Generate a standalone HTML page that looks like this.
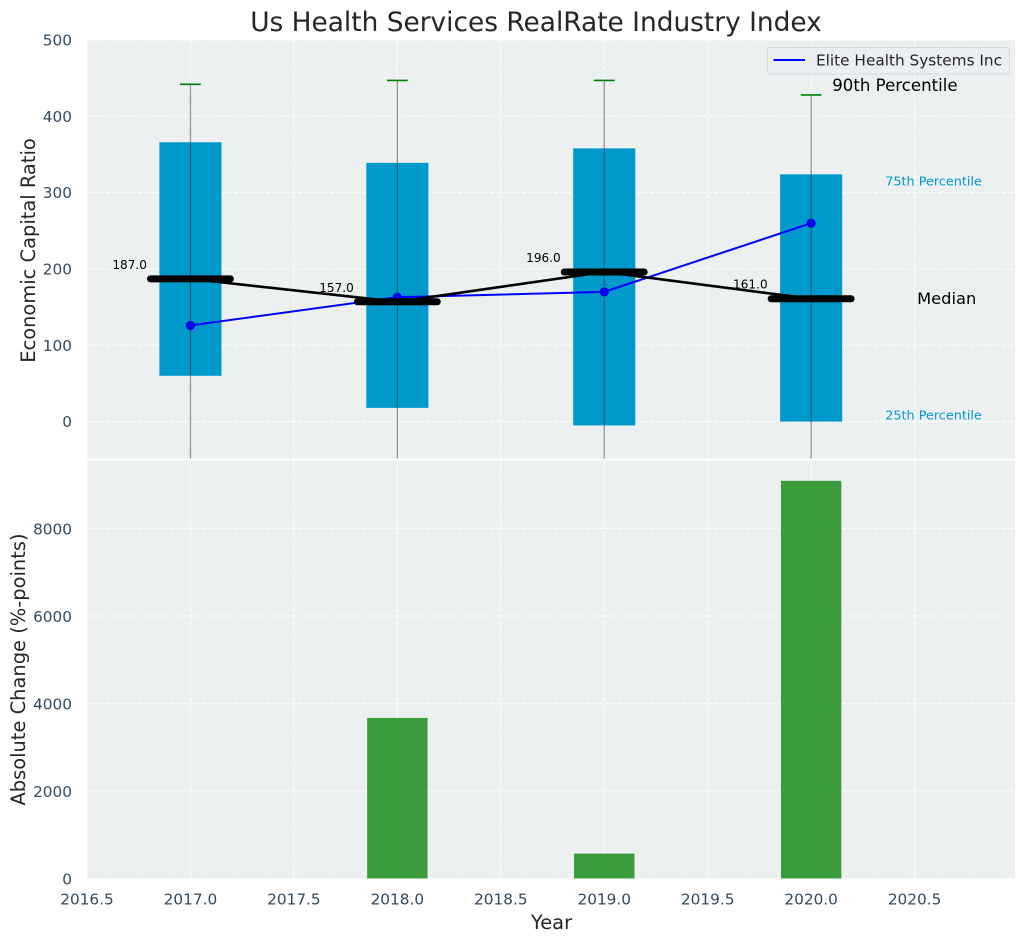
<!DOCTYPE html>
<html lang="en">
<head>
<meta charset="utf-8">
<title>Us Health Services RealRate Industry Index</title>
<style>
html,body{margin:0;padding:0;background:#fff;width:1026px;height:942px;overflow:hidden}
svg{display:block;font-family:"DejaVu Sans","Liberation Sans",sans-serif}
</style>
</head>
<body>
<svg id="chart" xmlns="http://www.w3.org/2000/svg" width="1026" height="942" viewBox="0 0 1026 942">
  <defs>
    <clipPath id="clip-top"><rect x="87" y="40" width="928" height="418.5"/></clipPath>
    <clipPath id="clip-bottom"><rect x="87" y="460.5" width="928" height="418"/></clipPath>
  </defs>
  <text x="536" y="31" text-anchor="middle" font-size="26.4" fill="#262626">Us Health Services RealRate Industry Index</text>
  <rect x="87" y="40" width="928" height="418.5" fill="#ecf0f1"/>
  <rect x="87" y="460.5" width="928" height="418" fill="#ecf0f1"/>
  <g id="grid"></g>
  <g id="top-marks" clip-path="url(#clip-top)"></g>
  <g id="bottom-marks" clip-path="url(#clip-bottom)"></g>
  <g id="annotations"></g>
  <g id="ticks"></g>
  <text transform="translate(35,250.5) rotate(-90)" text-anchor="middle" font-size="19.45" fill="#262626">Economic Capital Ratio</text>
  <text transform="translate(25,669.5) rotate(-90)" text-anchor="middle" font-size="19.45" fill="#262626">Absolute Change (%-points)</text>
  <text x="551.5" y="929" text-anchor="middle" font-size="19.45" fill="#262626">Year</text>
  <g>
    <rect x="767.5" y="47.5" width="242" height="26.5" rx="3" fill="#ebedf3" fill-opacity="0.9" stroke="#d8dade" stroke-width="1"/>
    <line x1="773.5" x2="805" y1="60" y2="60" stroke="#0000ff" stroke-width="2"/>
    <text x="816" y="65.5" font-size="15.3" fill="#262626">Elite Health Systems Inc</text>
  </g>
</svg>
<script>
const years = [2017, 2018, 2019, 2020];
const p25 = [60, 18, -5, 0];
const p75 = [366, 339, 358, 324];
const p90 = [442, 447, 447, 428];
const p10 = [-120, -120, -120, -120];
const medians = [187, 157, 196, 161];
const company = [126, 163, 170, 260];
const changeYears = [2018, 2019, 2020];
const changes = [3670, 570, 9090];
const xTickValues = [2016.5, 2017, 2017.5, 2018, 2018.5, 2019, 2019.5, 2020, 2020.5];
const xTickLabels = ['2016.5', '2017.0', '2017.5', '2018.0', '2018.5', '2019.0', '2019.5', '2020.0', '2020.5'];
const topTicks = [0, 100, 200, 300, 400, 500];
const bottomTicks = [0, 2000, 4000, 6000, 8000];

const SVGNS = 'http://www.w3.org/2000/svg';
const xScale = v => 87 + (v - 2016.5) * 206.9;
const yTop = v => 421.6 - v * 0.7632;
const yBottom = v => 878.5 - v * 0.04375;

function mk(parent, tag, attrs, text) {
  const el = document.createElementNS(SVGNS, tag);
  Object.keys(attrs).forEach(k => el.setAttribute(k, attrs[k]));
  if (text !== undefined) el.textContent = text;
  parent.appendChild(el);
  return el;
}

const grid = document.getElementById('grid');
const topMarks = document.getElementById('top-marks');
const bottomMarks = document.getElementById('bottom-marks');
const ticks = document.getElementById('ticks');
const notes = document.getElementById('annotations');
const gridStyle = { stroke: '#ffffff', 'stroke-width': 1.2, 'stroke-dasharray': '4.4 2', 'stroke-opacity': 0.85 };
const tickColor = '#34495e';

xTickValues.forEach((v, i) => {
  const a = mk(grid, 'line', Object.assign({ x1: xScale(v), x2: xScale(v), y1: 40, y2: 458.5 }, gridStyle));
  
  
  const b = mk(grid, 'line', Object.assign({ x1: xScale(v), x2: xScale(v), y1: 460.5, y2: 878.5 }, gridStyle));
  
  
  const t = mk(ticks, 'text', { x: xScale(v), y: 904.5, 'text-anchor': 'middle', 'font-size': 15.3, fill: tickColor }, xTickLabels[i]);
  
  
});

topTicks.forEach(v => {
  const l = mk(grid, 'line', Object.assign({ x1: 87, x2: 1015, y1: yTop(v), y2: yTop(v) }, gridStyle));
  
  
  const t = mk(ticks, 'text', { x: 72, y: yTop(v) + 5.5, 'text-anchor': 'end', 'font-size': 15.3, fill: tickColor }, String(v));
  
  
});

bottomTicks.forEach(v => {
  const l = mk(grid, 'line', Object.assign({ x1: 87, x2: 1015, y1: yBottom(v), y2: yBottom(v) }, gridStyle));
  
  
  const t = mk(ticks, 'text', { x: 72, y: yBottom(v) + 6, 'text-anchor': 'end', 'font-size': 15.3, fill: tickColor }, String(v));
  
  
});

years.forEach((yr, i) => {
  const bar = mk(topMarks, 'rect', {
    x: xScale(yr - 0.15), width: xScale(yr + 0.15) - xScale(yr - 0.15),
    y: yTop(p75[i]), height: yTop(p25[i]) - yTop(p75[i]), fill: '#0099cc'
  });
  
  
});

const companyLine = mk(topMarks, 'polyline', {
  points: years.map((yr, i) => xScale(yr) + ',' + yTop(company[i])).join(' '),
  fill: 'none', stroke: '#0000ff', 'stroke-width': 2
});



years.forEach((yr, i) => {
  const dot = mk(topMarks, 'circle', { cx: xScale(yr), cy: yTop(company[i]), r: 4.6, fill: '#0000ff' });
  
  
  const whisker = mk(topMarks, 'line', {
    x1: xScale(yr), x2: xScale(yr), y1: yTop(p90[i]), y2: yTop(p10[i]),
    stroke: '#303030', 'stroke-opacity': 0.5, 'stroke-width': 1.3
  });
  
  
  const cap = mk(topMarks, 'line', {
    x1: xScale(yr - 0.05), x2: xScale(yr + 0.05), y1: yTop(p90[i]), y2: yTop(p90[i]),
    stroke: '#008000', 'stroke-width': 1.6
  });
  
  
});

const medianLine = mk(topMarks, 'polyline', {
  points: years.map((yr, i) => xScale(yr) + ',' + yTop(medians[i])).join(' '),
  fill: 'none', stroke: '#000000', 'stroke-width': 2.6
});



years.forEach((yr, i) => {
  const m = mk(topMarks, 'line', {
    x1: xScale(yr - 0.193), x2: xScale(yr + 0.193), y1: yTop(medians[i]), y2: yTop(medians[i]),
    stroke: '#000000', 'stroke-width': 7, 'stroke-linecap': 'round'
  });
  
  
  const lab = mk(notes, 'text', {
    x: xScale(yr) - 43.5, y: yTop(medians[i]) - 10, 'text-anchor': 'end', 'font-size': 12.1, fill: '#000000'
  }, medians[i].toFixed(1));
  
  
});

changeYears.forEach((yr, i) => {
  const bar = mk(bottomMarks, 'rect', {
    x: xScale(yr - 0.146), width: xScale(yr + 0.146) - xScale(yr - 0.146),
    y: yBottom(changes[i]), height: yBottom(0) - yBottom(changes[i]), fill: '#008000', 'fill-opacity': 0.75
  });
  
  
});

const last = years.length - 1;
const lastX = years[last];
const labelP90 = mk(notes, 'text', { x: xScale(lastX + 0.102), y: yTop(p90[last]) - 4, 'font-size': 16.6, fill: '#000000' }, '90th Percentile');


const labelP75 = mk(notes, 'text', { x: xScale(lastX + 0.358), y: yTop(p75[last]) + 11, 'font-size': 12.8, fill: '#0099cc' }, '75th Percentile');


const labelP25 = mk(notes, 'text', { x: xScale(lastX + 0.358), y: yTop(p25[last]) - 2, 'font-size': 12.8, fill: '#0099cc' }, '25th Percentile');


const labelMedian = mk(notes, 'text', { x: xScale(lastX + 0.512), y: yTop(medians[last]) + 5.5, 'font-size': 16.3, fill: '#000000' }, 'Median');


</script>
</body>
</html>
